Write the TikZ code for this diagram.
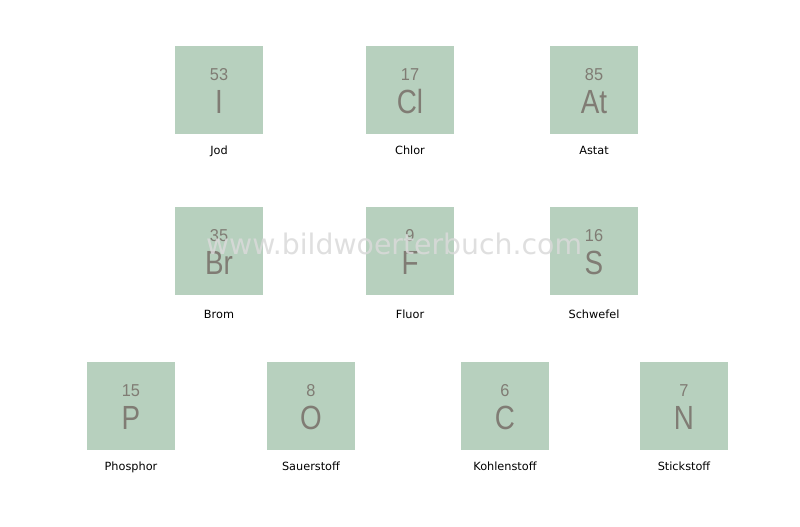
\documentclass[tikz,border=0pt]{standalone}
\usepackage{fontspec}
\setmainfont{DejaVu Sans}
\newfontfamily\elnumfont[FakeStretch=0.95]{Liberation Sans}
\newfontfamily\elsymfont[FakeStretch=0.83]{Liberation Sans}
\definecolor{boxgreen}{RGB}{183,208,190}
\definecolor{symgray}{RGB}{128,124,116}
\definecolor{wmgray}{RGB}{218,218,218}
\begin{document}
\begin{tikzpicture}[x=1pt,y=-1pt,
  elbox/.style={fill=boxgreen, draw=none, minimum width=88pt, minimum height=88pt, inner sep=0pt, outer sep=0pt},
  elnum/.style={anchor=base, text=symgray, font=\elnumfont\fontsize{17.2}{17.2}\selectfont, inner sep=0pt},
  elsym/.style={anchor=base, text=symgray, font=\elsymfont\fontsize{33.5}{33.5}\selectfont, inner sep=0pt},
  ellabel/.style={anchor=base, text=black, font=\fontsize{11.3}{11.3}\selectfont, inner sep=0pt},
  watermark/.style={anchor=base, text=wmgray, text opacity=0.85, font=\fontsize{28.3}{28.3}\selectfont, inner sep=0pt}]
\useasboundingbox[fill=white] (0,0) rectangle (800,527);
\foreach \n/\x/\t/\z/\s/\l/\lb in {
  jod/219/46/53/I/Jod/154.5,
  chlor/410/46/17/Cl/Chlor/154.5,
  astat/594/46/85/At/Astat/154.5,
  brom/219/207/35/Br/Brom/318.3,
  fluor/410/207/9/F/Fluor/318.3,
  schwefel/594/207/16/S/Schwefel/318.3,
  phosphor/131/362/15/P/Phosphor/470,
  sauerstoff/311/362/8/O/Sauerstoff/470,
  kohlenstoff/505/362/6/C/Kohlenstoff/470,
  stickstoff/684/362/7/N/Stickstoff/470}{
  \node[elbox] (\n) at (\x,\t+44) {};
  \node[elnum] (\n-num) at ([yshift=-34.7pt]\n.north) {\z};
  \node[elsym] (\n-sym) at ([yshift=-67.3pt]\n.north) {\s};
  \node[ellabel] (\n-label) at (\x,\lb) {\l};
}
\node[watermark] (wm) at (394,254) {www.bildwoerterbuch.com};
\end{tikzpicture}
\end{document}
